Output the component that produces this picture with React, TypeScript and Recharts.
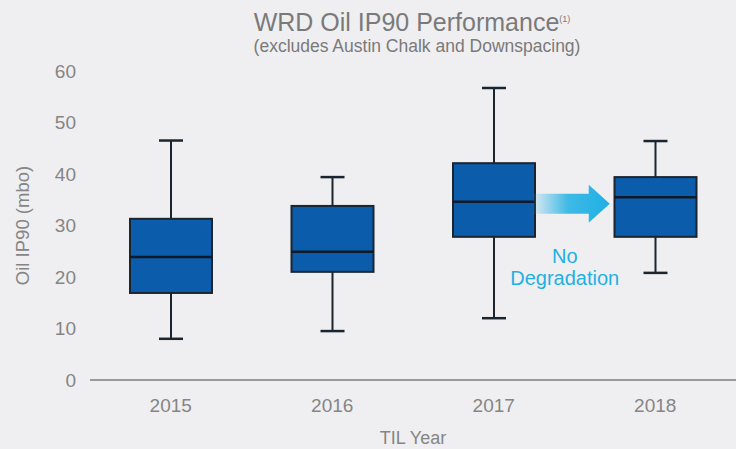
import React from 'react';
import {
  ComposedChart,
  Bar,
  XAxis,
  YAxis,
  ReferenceDot,
} from 'recharts';

const years = ['2015', '2016', '2017', '2018'];
const mins = [8.0, 9.5, 12.0, 20.8];
const q1s = [16.9, 21.0, 27.8, 27.8];
const medians = [23.9, 24.9, 34.6, 35.5];
const q3s = [31.3, 33.8, 42.1, 39.4];
const maxs = [46.5, 39.4, 56.7, 46.4];
const yTicks = [0, 10, 20, 30, 40, 50, 60];

const data = years.map((year, i) => ({
  year,
  min: mins[i],
  q1: q1s[i],
  median: medians[i],
  q3: q3s[i],
  max: maxs[i],
}));

const BOX_FILL = '#0b5cab';
const DARK = '#1b2530';
const GREY = '#858585';
const CYAN = '#1fb0e4';
const FONT = '"Liberation Sans", Arial, sans-serif';

// Draws a box plot from the min/max range bar
function BoxShape(props: any) {
  const { x, y, width, height, payload } = props;
  const top = Math.min(y, y + height);
  const bottom = Math.max(y, y + height);
  const span = payload.max - payload.min;
  const toY = (v: number) => bottom - ((v - payload.min) / span) * (bottom - top);
  const cx = x + width / 2;
  const cap = 12;
  return (
    <g>
      <line x1={cx} x2={cx} y1={toY(payload.max)} y2={toY(payload.q3)} stroke={DARK} strokeWidth={2} />
      <line x1={cx} x2={cx} y1={toY(payload.q1)} y2={toY(payload.min)} stroke={DARK} strokeWidth={2} />
      <line x1={cx - cap} x2={cx + cap} y1={toY(payload.max)} y2={toY(payload.max)} stroke={DARK} strokeWidth={2.5} />
      <line x1={cx - cap} x2={cx + cap} y1={toY(payload.min)} y2={toY(payload.min)} stroke={DARK} strokeWidth={2.5} />
      <rect
        x={x}
        y={toY(payload.q3)}
        width={width}
        height={toY(payload.q1) - toY(payload.q3)}
        fill={BOX_FILL}
        stroke={DARK}
        strokeWidth={2}
      />
      <line x1={x} x2={x + width} y1={toY(payload.median)} y2={toY(payload.median)} stroke="#0d1a2a" strokeWidth={2.5} />
    </g>
  );
}

// Arrow and "No Degradation" note, placed next to the 2017 box
function ArrowNote(props: any) {
  const { cx, cy } = props;
  const x0 = cx + 40;
  return (
    <g>
      <defs>
        <linearGradient id="arrowFade" x1="0" y1="0" x2="1" y2="0">
          <stop offset="0%" stopColor={CYAN} stopOpacity={0.1} />
          <stop offset="45%" stopColor={CYAN} stopOpacity={0.85} />
          <stop offset="100%" stopColor={CYAN} stopOpacity={1} />
        </linearGradient>
      </defs>
      <path
        d={`M${x0},${cy - 10} L${x0 + 55},${cy - 10} L${x0 + 55},${cy - 19} L${x0 + 76},${cy} L${x0 + 55},${cy + 19} L${x0 + 55},${cy + 10} L${x0},${cy + 10} Z`}
        fill="url(#arrowFade)"
      />
      <text x={cx + 71} y={cy + 59} textAnchor="middle" fill={CYAN} fontSize={20} fontFamily={FONT}>
        No
      </text>
      <text x={cx + 71} y={cy + 81} textAnchor="middle" fill={CYAN} fontSize={20} fontFamily={FONT}>
        Degradation
      </text>
    </g>
  );
}

export default function App() {
  return (
    <div
      style={{
        position: 'absolute',
        left: 0,
        top: 0,
        width: 736,
        height: 449,
        background: '#efeff1',
        fontFamily: FONT,
        overflow: 'hidden',
      }}
    >
      <div
        style={{
          position: 'absolute',
          left: 0,
          width: 824,
          top: 4,
          textAlign: 'center',
          fontSize: 25,
          color: '#7a7a7a',
          lineHeight: '30px',
        }}
      >
        WRD Oil IP90 Performance<sup style={{ fontSize: 9 }}>(1)</sup>
      </div>
      <div
        style={{
          position: 'absolute',
          left: 0,
          width: 834,
          top: 36,
          textAlign: 'center',
          fontSize: 17.5,
          color: '#7a7a7a',
          lineHeight: '20px',
        }}
      >
        (excludes Austin Chalk and Downspacing)
      </div>
      <ComposedChart
        width={736}
        height={449}
        data={data}
        margin={{ top: 71, right: 0, bottom: 0, left: 0 }}
        style={{ position: 'absolute', left: 0, top: 0 }}
      >
        <XAxis
          dataKey="year"
          height={69}
          axisLine={{ stroke: '#9a9a9a', strokeWidth: 2 }}
          tickLine={false}
          tickSize={0}
          tickMargin={19}
          tick={{ fill: GREY, fontSize: 19, fontFamily: FONT }}
          label={{ value: 'TIL Year', position: 'insideBottom', offset: 5, fill: GREY, fontSize: 18, fontFamily: FONT }}
        />
        <YAxis
          width={90}
          domain={[0, 60]}
          ticks={yTicks}
          axisLine={false}
          tickLine={false}
          tickSize={0}
          tickMargin={14}
          tick={{ fill: GREY, fontSize: 19, fontFamily: FONT }}
          label={{
            value: 'Oil IP90 (mbo)',
            angle: -90,
            position: 'insideLeft',
            offset: 22,
            fill: GREY,
            fontSize: 18.5,
            fontFamily: FONT,
            style: { textAnchor: 'middle' },
          }}
        />
        <Bar
          dataKey={(d: any) => [d.min, d.max]}
          barSize={82}
          shape={<BoxShape />}
          isAnimationActive={false}
        />
        <ReferenceDot x="2017" y={34.2} r={0} shape={<ArrowNote />} />
      </ComposedChart>
    </div>
  );
}
